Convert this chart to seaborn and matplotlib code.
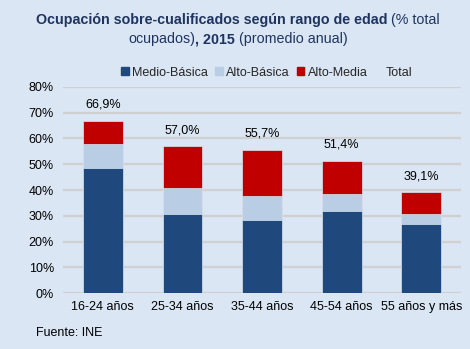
import matplotlib
matplotlib.use("Agg")
import matplotlib.pyplot as plt
import seaborn as sns
import numpy as np
import pandas as pd
from matplotlib.lines import Line2D
from matplotlib.patches import Patch

categories = ["16-24 años", "25-34 años", "35-44 años", "45-54 años", "55 años y más"]
medio_basica = [48.4, 30.6, 28.4, 31.7, 26.7]
alto_basica = [9.6, 10.0, 9.2, 6.6, 4.0]
total = [66.9, 57.0, 55.7, 51.4, 39.1]
total_labels = ["66,9%", "57,0%", "55,7%", "51,4%", "39,1%"]
yticks = [0, 10, 20, 30, 40, 50, 60, 70, 80]

BG = "#DAE6F3"
DARK = "#1F497D"
LIGHT = "#B9CDE5"
RED = "#C00000"
NAVY = "#1F3460"

sns.set_theme(style="white")
plt.rcParams["font.family"] = ["Liberation Sans", "DejaVu Sans"]

df = pd.DataFrame({
    "cat": categories,
    "mb": medio_basica,
    "ab": alto_basica,
    "tot": total,
})
df["mb_ab"] = df["mb"] + df["ab"]

fig = plt.figure(figsize=(4.70, 3.49), dpi=100, facecolor=BG)
ax = fig.add_axes([0.134, 0.160, 0.847, 0.591])
ax.set_facecolor(BG)

for v in yticks:
    ax.axhline(v, color="#D0D0D0", lw=1.6, zorder=0)

kw = dict(width=0.5, edgecolor=BG, linewidth=0.5, ax=ax, zorder=2)
sns.barplot(data=df, x="cat", y="tot", color=RED, saturation=1, **kw)
sns.barplot(data=df, x="cat", y="mb_ab", color=LIGHT, saturation=1, **kw)
sns.barplot(data=df, x="cat", y="mb", color=DARK, saturation=1, **kw)

for i, (t, lab) in enumerate(zip(total, total_labels)):
    ax.annotate(lab, (i, t), xytext=(0, 11.5), textcoords="offset points",
                ha="center", va="center", fontsize=9, color="black")

ax.set_xlim(-0.5, 4.5)
ax.set_ylim(0, 80)
ax.set_yticks(yticks)
ax.set_yticklabels([f"{v}%" for v in yticks])
ax.set_xlabel("")
ax.set_ylabel("")
ax.tick_params(axis="both", length=0, labelsize=9, colors="black")
ax.tick_params(axis="y", pad=6.5)
ax.tick_params(axis="x", pad=6)
for s in ax.spines.values():
    s.set_visible(False)

handles = [Patch(color=DARK), Patch(color=LIGHT), Patch(color=RED),
           Line2D([], [], color="none")]
leg = fig.legend(handles, ["Medio-Básica", "Alto-Básica", "Alto-Media", "Total"],
                 loc="center", bbox_to_anchor=(0.568, 0.792), ncol=4, frameon=False,
                 fontsize=9, handlelength=0.6, handleheight=0.6, handletextpad=0.3,
                 columnspacing=0.55)

# Title with mixed weights
def draw_line(pieces, y, size=10.3):
    r = fig.canvas.get_renderer()
    texts = []
    widths = []
    for s, w in pieces:
        t = fig.text(0, y, s, fontsize=size, fontweight=w, color=NAVY,
                     ha="left", va="center")
        bb = t.get_window_extent(renderer=r)
        texts.append(t)
        widths.append(bb.width)
    tot_w = sum(widths)
    figw = fig.get_figwidth() * fig.dpi
    x = (figw - tot_w) / 2 + 3
    for t, w in zip(texts, widths):
        t.set_x(x / figw)
        x += w

fig.canvas.draw()
draw_line([("Ocupación sobre-cualificados según rango de edad", "bold"),
           (" (% total", "normal")], 1 - 20 / 349)
draw_line([("ocupados)", "normal"), (", 2015", "bold"),
           (" (promedio anual)", "normal")], 1 - 39 / 349)

fig.text(36 / 470, 1 - 333 / 349, "Fuente: INE", fontsize=9, color="black",
         ha="left", va="center")

fig.savefig("out.png", dpi=100, facecolor=BG)
